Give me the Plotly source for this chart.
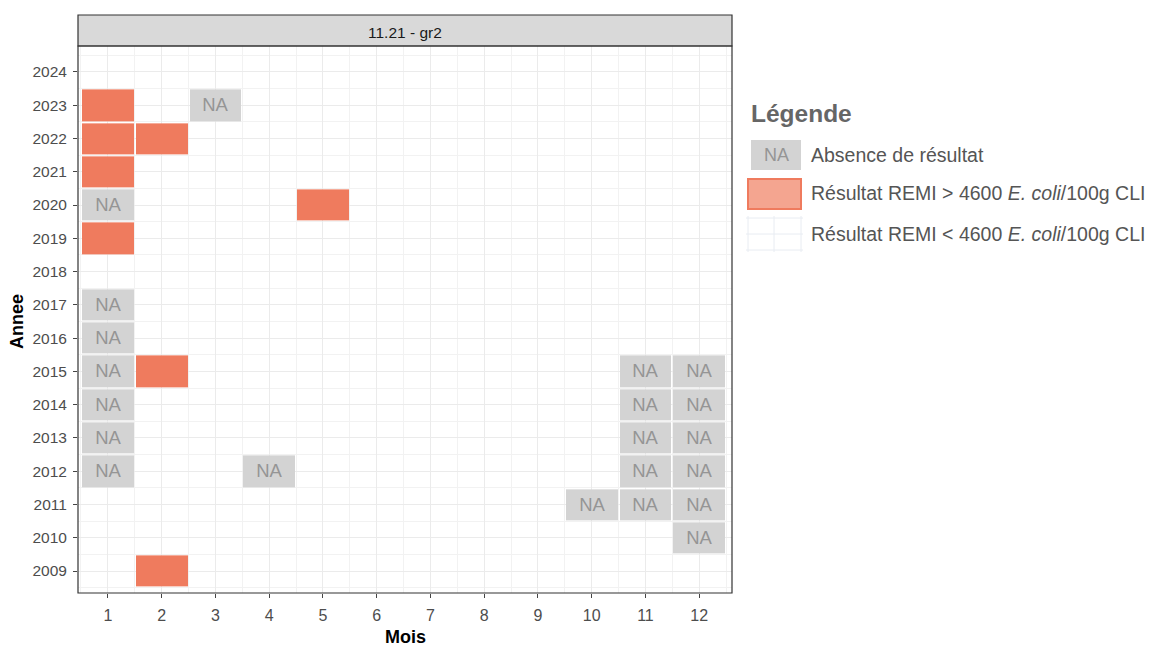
import plotly.graph_objects as go

# ---- data ----
months = list(range(1, 13))
years = list(range(2009, 2025))
month_labels = [str(m) for m in months]
year_labels = [str(y) for y in years]

# cells with result above threshold (month, year)
exceed_months = [1, 1, 2, 1, 5, 1, 2, 2]
exceed_years = [2023, 2022, 2022, 2021, 2020, 2019, 2015, 2009]

# cells without result (NA)
na_months = [3, 1, 1, 1, 1, 11, 12, 1, 11, 12, 1, 11, 12, 1, 4, 11, 12, 10, 11, 12, 12]
na_years = [2023, 2020, 2017, 2016, 2015, 2015, 2015, 2014, 2014, 2014, 2013, 2013, 2013,
            2012, 2012, 2012, 2012, 2011, 2011, 2011, 2010]

strip_label = "11.21 - gr2"
legend_title = "Légende"
legend_labels = ["Absence de résultat",
                 "Résultat REMI > 4600 <i>E. coli</i>/100g CLI",
                 "Résultat REMI < 4600 <i>E. coli</i>/100g CLI"]

RED = "#EF7B5E"
GREY = "#D3D3D3"
FONT = "Liberation Sans, Arial, sans-serif"

# build matrix
z = [[None for _ in months] for _ in years]
txt = [["" for _ in months] for _ in years]
for m, y in zip(na_months, na_years):
    z[years.index(y)][months.index(m)] = 0
    txt[years.index(y)][months.index(m)] = "NA"
for m, y in zip(exceed_months, exceed_years):
    z[years.index(y)][months.index(m)] = 1

fig = go.Figure()
fig.add_trace(go.Heatmap(
    x=months, y=years, z=z, text=txt, texttemplate="%{text}",
    textfont=dict(size=18.5, color="#959595", family=FONT),
    colorscale=[[0, GREY], [0.5, GREY], [0.5, RED], [1, RED]],
    zmin=0, zmax=1, showscale=False, xgap=2, ygap=2, hoverinfo="skip",
))

# page offset (browser body margin)
OFF = 8
FW, FH = 1162 - OFF, 646 - OFF
# plot area geometry in screen pixels
L, R, T, B = 78, 732, 46, 593
W, H = R - L, B - T


def px(x):
    return (x - L) / W


def py(y):
    return (B - y) / H


shapes = []
annotations = []

# strip
shapes.append(dict(type="rect", xref="paper", yref="paper", x0=0, x1=1, y0=1, y1=py(15),
                   fillcolor="#D9D9D9", line=dict(color="#333333", width=1.2)))
annotations.append(dict(xref="paper", yref="paper", x=0.5, y=py(32), text=strip_label,
                        showarrow=False, font=dict(size=15.5, color="#1a1a1a", family=FONT),
                        xanchor="center", yanchor="middle"))
# panel border
shapes.append(dict(type="rect", xref="paper", yref="paper", x0=0, x1=1, y0=0, y1=1,
                   line=dict(color="#333333", width=1.2), layer="above"))

# legend
annotations.append(dict(xref="paper", yref="paper", x=px(749), y=py(113), text="<b>" + legend_title + "</b>",
                        showarrow=False, xanchor="left", yanchor="middle",
                        font=dict(size=24.5, color="#666666", family=FONT)))
# key 1: NA
shapes.append(dict(type="rect", xref="paper", yref="paper", x0=px(751), x1=px(801), y0=py(170), y1=py(140),
                   fillcolor=GREY, line=dict(width=0)))
annotations.append(dict(xref="paper", yref="paper", x=px(776), y=py(155), text="NA", showarrow=False,
                        xanchor="center", yanchor="middle", font=dict(size=18, color="#959595", family=FONT)))
# key 2: exceed
shapes.append(dict(type="rect", xref="paper", yref="paper", x0=px(748), x1=px(801), y0=py(209), y1=py(179),
                   fillcolor="#F4A590", line=dict(color=RED, width=2)))
# key 3: below (white with grid)
for gx in [748, 774, 801]:
    shapes.append(dict(type="line", xref="paper", yref="paper", x0=px(gx), x1=px(gx), y0=py(252), y1=py(216),
                       line=dict(color="#E8ECF2", width=1)))
for gy in [218, 234, 250]:
    shapes.append(dict(type="line", xref="paper", yref="paper", x0=px(746), x1=px(803), y0=py(gy), y1=py(gy),
                       line=dict(color="#E8ECF2", width=1)))
for lab, yy in zip(legend_labels, [155, 193, 234]):
    annotations.append(dict(xref="paper", yref="paper", x=px(809), y=py(yy), text=lab, showarrow=False,
                            xanchor="left", yanchor="middle", font=dict(size=19.5, color="#555555", family=FONT)))

# axis titles
annotations.append(dict(xref="paper", yref="paper", x=px(405), y=py(637), text="<b>Mois</b>", showarrow=False,
                        xanchor="center", yanchor="middle", font=dict(size=18, color="black", family=FONT)))
annotations.append(dict(xref="paper", yref="paper", x=px(17), y=py(322), text="<b>Annee</b>", showarrow=False,
                        textangle=-90, xanchor="center", yanchor="middle",
                        font=dict(size=18, color="black", family=FONT)))

fig.update_layout(
    width=FW, height=FH,
    margin=dict(l=L - OFF, r=FW - (R - OFF), t=T - OFF, b=FH - (B - OFF)),
    paper_bgcolor="white", plot_bgcolor="white",
    font=dict(family=FONT),
    shapes=shapes, annotations=annotations,
    showlegend=False,
)
fig.update_xaxes(range=[0.445, 12.61], tickmode="array", tickvals=months, ticktext=month_labels,
                 ticks="outside", ticklen=4, tickcolor="#444444", tickwidth=1, ticklabelstandoff=4,
                 tickfont=dict(size=16, color="#4D4D4D", family=FONT),
                 showgrid=True, gridcolor="#EBEBEB", gridwidth=1, zeroline=False,
                 minor=dict(tickmode="array", tickvals=[m + 0.5 for m in range(0, 13)], showgrid=True,
                            gridcolor="#F2F2F2", gridwidth=0.6, ticks=""),
                 showline=False)
fig.update_yaxes(range=[2008.34, 2024.78], tickmode="array", tickvals=years, ticktext=year_labels,
                 ticks="outside", ticklen=4, tickcolor="#444444", tickwidth=1, ticklabelstandoff=3,
                 tickfont=dict(size=15.5, color="#4D4D4D", family=FONT),
                 showgrid=True, gridcolor="#EBEBEB", gridwidth=1, zeroline=False,
                 minor=dict(tickmode="array", tickvals=[y + 0.5 for y in range(2008, 2025)], showgrid=True,
                            gridcolor="#F2F2F2", gridwidth=0.6, ticks=""),
                 showline=False)

fig.write_html("out.html")
